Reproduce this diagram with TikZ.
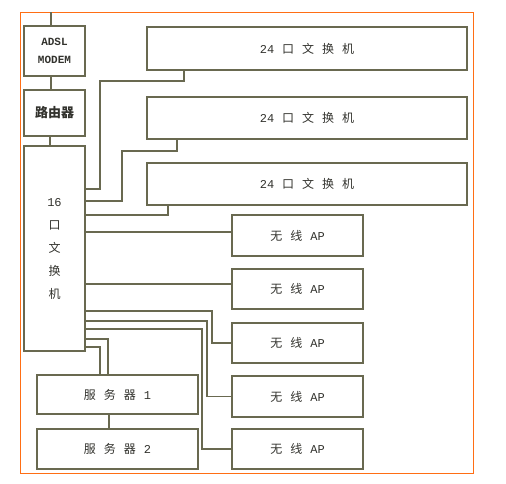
\documentclass[tikz,border=0pt]{standalone}
\usepackage{fontspec}
\newfontfamily\cnfont{Noto Sans CJK SC}
\newfontfamily\lmono{Liberation Mono}
\definecolor{boxline}{RGB}{105,105,80}
\definecolor{frameorange}{RGB}{255,110,20}
\definecolor{labeltext}{RGB}{50,50,45}
\newcommand{\cgap}{\hspace{8pt}}

\begin{document}
\begin{tikzpicture}[x=1pt,y=-1pt,inner sep=0pt,outer sep=0pt,
netbox/.style={draw=boxline,rectangle,line width=1.3pt,text=labeltext,font=\cnfont\fontsize{12}{14}\selectfont},
wire/.style={draw=boxline,line width=1.1pt}]

\useasboundingbox (0,0) rectangle (506,483);
\draw[frameorange,line width=0.8pt] (20,12) rectangle (473,473);

%%% Left column: modem, router, 16 port switch %%%%%
\draw (54.5,51) node[netbox,minimum width=61pt,minimum height=50pt,align=center,font=\lmono\bfseries\fontsize{11}{18}\selectfont] (modem) {ADSL\\MODEM};
\draw (54.5,113) node[netbox,minimum width=61pt,minimum height=46pt,font=\cnfont\bfseries\fontsize{13}{15}\selectfont] (router) {路由器};
\draw (54.5,248.5) node[netbox,minimum width=61pt,minimum height=205pt,align=center,font=\cnfont\fontsize{12}{23}\selectfont] (sw16) {{\lmono 16}\\口\\文\\换\\机};

	%%% 24 port switches
	\draw (307,48.5) node[netbox,minimum width=320pt,minimum height=43pt] (sw24a) {{\lmono 24}\cgap 口\cgap 文\cgap 换\cgap 机};
	\draw (307,118) node[netbox,minimum width=320pt,minimum height=42pt] (sw24b) {{\lmono 24}\cgap 口\cgap 文\cgap 换\cgap 机};
	\draw (307,184) node[netbox,minimum width=320pt,minimum height=42pt] (sw24c) {{\lmono 24}\cgap 口\cgap 文\cgap 换\cgap 机};

	%%% Wireless APs
	\draw (297.5,235.5) node[netbox,minimum width=131pt,minimum height=41pt] (ap1) {无\cgap 线\cgap{\lmono AP}};
	\draw (297.5,289) node[netbox,minimum width=131pt,minimum height=40pt] (ap2) {无\cgap 线\cgap{\lmono AP}};
	\draw (297.5,343) node[netbox,minimum width=131pt,minimum height=40pt] (ap3) {无\cgap 线\cgap{\lmono AP}};
	\draw (297.5,396.5) node[netbox,minimum width=131pt,minimum height=41pt] (ap4) {无\cgap 线\cgap{\lmono AP}};
	\draw (297.5,449) node[netbox,minimum width=131pt,minimum height=40pt] (ap5) {无\cgap 线\cgap{\lmono AP}};

	%%% Servers
	\draw (117.5,394.5) node[netbox,minimum width=161pt,minimum height=39pt] (srv1) {服\cgap 务\cgap 器\cgap{\lmono 1}};
	\draw (117.5,449) node[netbox,minimum width=161pt,minimum height=40pt] (srv2) {服\cgap 务\cgap 器\cgap{\lmono 2}};
%%%%%%%%%%%%%%%%%%%%%%%%%

%%% Uplink chain
\coordinate (inet) at ([xshift=-3.5pt,yshift=14pt]modem.north);
\draw[wire] (inet) -- ([xshift=-3.5pt]modem.north);
\draw[wire] ([xshift=-3.5pt]modem.south) -- ([xshift=-3.5pt]router.north);
\draw[wire] ([xshift=-4.5pt]router.south) -- ([xshift=-4.5pt]sw16.north);

%%% Switch to 24 port switches
\draw[wire] ([yshift=-43pt]sw16.north east) -| ++(15,-108) -| ([xshift=-123pt]sw24a.south);
\draw[wire] ([yshift=-55pt]sw16.north east) -| ++(37,-50) -| ([xshift=-130pt]sw24b.south);
\draw[wire] ([yshift=-69pt]sw16.north east) -| ([xshift=-139pt]sw24c.south);

%%% Switch to wireless APs
	\coordinate (ap1in) at ([yshift=3.5pt]ap1.west);
	\coordinate (ap2in) at ([yshift=5pt]ap2.west);
\draw[wire] (sw16.east |- ap1in) -- (ap1in);
\draw[wire] (sw16.east |- ap2in) -- (ap2in);
\draw[wire] ([yshift=-165pt]sw16.north east) -| ([xshift=-20pt]ap3.west) -- (ap3.west);
\draw[wire] ([yshift=-175pt]sw16.north east) -| ([xshift=-25pt]ap4.west) -- (ap4.west);
\draw[wire] ([yshift=-183pt]sw16.north east) -| ([xshift=-30pt]ap5.west) -- (ap5.west);

%%% Switch to servers
\draw[wire] ([yshift=-193pt]sw16.north east) -| ([xshift=-9.5pt]srv1.north);
\draw[wire] ([yshift=-201pt]sw16.north east) -| ([xshift=-17.5pt]srv1.north);
\draw[wire] ([xshift=-8.5pt]srv1.south) -- ([xshift=-8.5pt]srv2.north);

\end{tikzpicture}
\end{document}
